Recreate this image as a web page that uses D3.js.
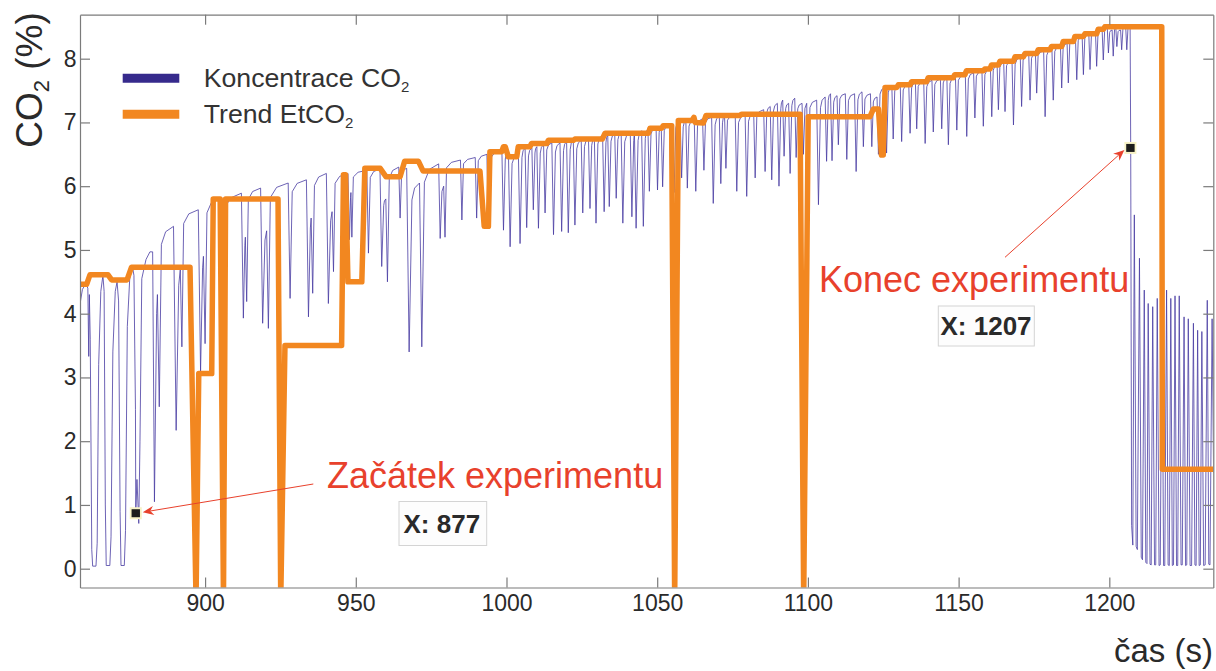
<!DOCTYPE html>
<html>
<head>
<meta charset="utf-8">
<script src="https://cdn.jsdelivr.net/npm/d3@7"></script>
<style>
  body { margin: 0; background: #fff; }
  svg { display: block; font-family: "Liberation Sans", Arial, Helvetica, sans-serif; }
</style>
</head>
<body>
<svg id="chart" width="1216" height="671"></svg>
<script>
// ---- Capnogram, first irregular part (time s, CO2 %) ----
const earlyTime = [858.5, 859.3, 860.4, 861.1, 861.4, 861.6, 861.9, 862.4, 862.7, 863.8,
  864.2, 864.7, 865.4, 866.1, 866.5, 866.9, 867.2, 868.4, 868.8, 869.4,
  870.2, 870.8, 871.3, 871.8, 872.1, 873.2, 873.6, 874.2, 875.0, 875.9,
  876.4, 876.9, 877.0, 877.4, 878.0, 878.4, 879.0, 880.4, 881.7];
const earlyValue = [4.15, 4.38, 4.47, 4.4, 3.33, 4.3, 3.6, 0.3, 0.04, 0.04,
  0.4, 3.2, 4.35, 4.6, 4.35, 1.0, 0.05, 0.05, 0.5, 3.4,
  4.35, 4.5, 4.2, 0.9, 0.05, 0.05, 0.6, 3.8, 4.55, 4.74,
  4.6, 2.5, 0.87, 1.4, 0.71, 2.0, 4.55, 4.85, 4.97];

// ---- Breaths during the experiment: trough time, trough value, plateau before the trough ----
const breathTime = [
  883.2, 884.8, 890.4, 892.3, 898.5, 900.0, 905.5, 912.7, 913.8, 919.1,
  921.0, 928.2, 934.3, 935.7, 940.9, 942.6, 947.9, 948.7, 954.2, 958.6,
  960.5, 964.7, 967.7, 971.9, 978.0, 979.6, 985.2, 990.1, 994.0, 999.0,
  1001.2, 1004.5, 1006.7, 1008.9, 1010.6, 1012.8, 1015.6, 1018.3, 1020.5, 1022.7,
  1025.3, 1027.7, 1029.7, 1032.4, 1034.1, 1036.4, 1038.6, 1041.6, 1043.0, 1045.4,
  1047.4, 1050.1, 1051.8, 1054.5, 1055.6, 1058.1, 1060.0, 1062.8, 1065.5, 1068.6,
  1071.1, 1072.8, 1076.4, 1079.7, 1082.5, 1085.8, 1088.0, 1090.4, 1092.1, 1094.1,
  1096.1, 1098.5, 1100.1, 1103.5, 1106.2, 1108.0, 1110.1, 1112.9, 1116.0, 1118.4,
  1121.2, 1123.4, 1126.1, 1128.3, 1131.1, 1133.9, 1136.1, 1138.9, 1141.6, 1144.4,
  1146.6, 1149.4, 1152.7, 1155.4, 1158.2, 1161.0, 1163.2, 1165.4, 1168.2, 1170.9,
  1173.7, 1175.9, 1178.7, 1181.4, 1184.2, 1186.4, 1189.2, 1191.4, 1193.6, 1195.8,
  1198.0, 1199.7, 1201.3, 1202.5, 1204.1, 1205.8];
const breathLow = [
  1.05, 2.54, 2.17, 3.48, 3.09, 3.53, 3.33, 3.93, 4.19, 3.85,
  3.77, 4.24, 3.95, 4.32, 4.16, 4.66, 5.16, 5.2, 4.95, 4.74,
  4.5, 5.5, 3.40, 3.48, 5.18, 5.2, 5.47, 5.5, 5.38, 5.31,
  5.05, 5.1, 5.35, 5.63, 5.34, 5.58, 5.24, 5.29, 5.27, 5.39,
  5.58, 5.65, 5.42, 5.6, 5.68, 5.81, 5.42, 5.52, 5.34, 5.37,
  5.92, 5.94, 5.99, 6.1, 5.9, 6.13, 5.97, 5.92, 6.25, 5.73,
  6.04, 6.28, 5.92, 5.84, 6.13, 6.23, 6.1, 6.0, 6.47, 6.2,
  6.45, 6.5, 6.18, 5.71, 6.39, 6.4, 6.65, 6.42, 6.23, 6.62,
  6.62, 6.5, 6.52, 6.74, 6.7, 6.83, 6.9, 6.67, 6.85, 6.9,
  6.65, 6.88, 6.78, 7.07, 6.94, 7.09, 7.2, 7.17, 6.96, 7.25,
  7.35, 7.46, 7.09, 7.35, 7.54, 7.62, 7.67, 7.75, 7.83, 7.88,
  7.98, 8.09, 8.04, 8.19, 8.14, 8.14];
const breathHigh = [
  4.97, 4.3, 5.37, 4.7, 5.63, 4.9, 5.81, 5.89, 5.2, 5.97,
  5.3, 6.05, 6.1, 5.5, 6.2, 5.6, 6.2, 5.9, 6.25, 6.27,
  5.8, 6.3, 6.28, 6.05, 6.35, 6.0, 6.41, 6.45, 6.5, 6.55,
  6.55, 6.5, 6.6, 6.6, 6.62, 6.65, 6.68, 6.68, 6.7, 6.72,
  6.72, 6.74, 6.75, 6.8, 6.8, 6.82, 6.83, 6.84, 6.85, 6.87,
  6.9, 6.92, 6.94, 6.97, 6.98, 7.03, 7.02, 7.05, 7.06, 7.08,
  7.1, 7.1, 7.12, 7.12, 7.15, 7.2, 7.25, 7.3, 7.35, 7.3,
  7.38, 7.3, 7.3, 7.35, 7.4, 7.45, 7.42, 7.45, 7.45, 7.48,
  7.45, 7.4, 7.55, 7.57, 7.58, 7.6, 7.62, 7.64, 7.66, 7.68,
  7.7, 7.72, 7.75, 7.78, 7.8, 7.84, 7.9, 7.94, 7.97, 8.02,
  8.06, 8.08, 8.12, 8.16, 8.2, 8.24, 8.3, 8.35, 8.38, 8.42,
  8.46, 8.48, 8.45, 8.5, 8.45, 8.5];

// ---- After the end of the experiment ----
const tailTime = [1206.9, 1207.1, 1207.4, 1207.8, 1208.3, 1208.9, 1209.3, 1210.0, 1210.6, 1211.0,
  1211.6, 1212.1, 1212.5, 1212.9, 1213.5, 1213.9, 1214.4, 1215.0, 1215.4, 1215.9,
  1216.5, 1216.9, 1217.5, 1218.0, 1218.4, 1219.0, 1219.5, 1219.9, 1220.4, 1220.9,
  1221.3, 1221.8, 1222.3, 1222.7, 1223.2, 1223.8, 1224.2, 1224.8, 1225.3, 1225.7,
  1226.2, 1226.8, 1227.3, 1227.9, 1228.4, 1228.8, 1229.3, 1229.8, 1230.2, 1230.7,
  1231.3, 1231.8, 1232.5, 1233.0, 1233.4, 1234.1, 1234.6];
const tailValue = [8.5, 6.6, 0.68, 0.37, 5.55, 0.35, 0.3, 4.87, 0.18, 0.14,
  4.37, 0.1, 0.08, 4.16, 0.07, 0.06, 4.11, 0.06, 0.06, 4.24,
  0.05, 0.06, 4.28, 0.05, 0.05, 4.37, 0.06, 0.05, 4.24, 0.05,
  0.06, 4.28, 0.05, 0.05, 4.28, 0.06, 0.06, 3.95, 0.05, 0.06,
  3.92, 0.05, 0.05, 3.85, 0.06, 0.05, 3.74, 0.05, 0.06, 3.72,
  0.05, 0.06, 4.21, 0.07, 0.06, 3.92, 1.5];

// ---- End-tidal CO2 trend ----
const trendTime = [858.5, 860.7, 861.8, 867.8, 869.0, 874.1, 875.6, 895.0, 897.0, 897.9,
  902.2, 902.7, 905.0, 906.1, 906.8, 924.2, 925.1, 926.5, 945.3, 945.9,
  946.6, 947.4, 952.0, 953.0, 958.1, 960.0, 964.7, 966.2, 970.8, 972.3,
  991.2, 992.6, 994.0, 994.5, 998.4, 999.0, 999.6, 1000.6, 1003.4, 1003.9,
  1007.8, 1008.3, 1013.4, 1013.9, 1022.2, 1022.7, 1031.8, 1032.7, 1047.1, 1047.6,
  1051.5, 1052.0, 1054.8, 1055.8, 1057.0, 1061.5, 1062.2, 1062.6, 1065.3, 1066.2,
  1077.5, 1078.0, 1097.4, 1098.6, 1100.1, 1120.6, 1121.7, 1123.4, 1124.4, 1125.0,
  1125.6, 1129.5, 1130.0, 1133.9, 1134.4, 1139.4, 1139.9, 1148.2, 1148.7, 1152.1,
  1152.6, 1158.2, 1158.7, 1160.4, 1160.9, 1163.2, 1163.7, 1168.2, 1168.7, 1171.5,
  1172.0, 1175.9, 1176.4, 1180.3, 1180.8, 1184.2, 1184.7, 1188.1, 1188.6, 1191.4,
  1191.9, 1195.8, 1196.3, 1198.0, 1198.5, 1217.4, 1217.6, 1234.5];
const trendValue = [4.46, 4.46, 4.61, 4.61, 4.53, 4.53, 4.73, 4.73, -0.5, 3.06,
  3.06, 5.80, 5.80, -0.5, 5.80, 5.80, -0.5, 3.50, 3.50, 6.18,
  6.18, 4.50, 4.50, 6.28, 6.28, 6.15, 6.15, 6.39, 6.39, 6.24,
  6.24, 5.37, 5.37, 6.54, 6.54, 6.62, 6.62, 6.46, 6.46, 6.62,
  6.62, 6.67, 6.67, 6.72, 6.72, 6.74, 6.74, 6.83, 6.83, 6.91,
  6.91, 6.95, 6.95, -0.5, 7.03, 7.03, 7.08, 7.0, 6.99, 7.11,
  7.11, 7.13, 7.13, -0.5, 7.09, 7.09, 7.21, 7.21, 6.49, 6.49,
  7.55, 7.55, 7.59, 7.59, 7.64, 7.64, 7.70, 7.70, 7.75, 7.75,
  7.81, 7.81, 7.84, 7.84, 7.90, 7.90, 7.96, 7.96, 8.03, 8.03,
  8.08, 8.08, 8.14, 8.14, 8.19, 8.19, 8.27, 8.27, 8.35, 8.35,
  8.39, 8.39, 8.46, 8.46, 8.50, 8.50, 1.56, 1.56];

const xTicks = [900, 950, 1000, 1050, 1100, 1150, 1200];
const yTicks = [0, 1, 2, 3, 4, 5, 6, 7, 8];

// Data tips marking start and end of the experiment
const markerTime = [877, 1207];
const markerValue = [0.87, 6.6];
const markerTitle = ["Začátek experimentu", "Konec experimentu"];

const legendNames = ["Koncentrace CO", "Trend EtCO"];

// ---------------------------------------------------------------
const plot = { left: 80, right: 1213.3, top: 14.7, bottom: 587.5 };
const BLUE = "#362a8c", BLUE_LINE = "#4a3ea3", ORANGE = "#f28720", RED = "#e8412c",
      AXIS = "#7b7b7b", INK = "#2a2a2a";

const svg = d3.select("#chart");
const x = d3.scaleLinear().domain([858.5, 1234.5]).range([plot.left, plot.right]);
const y = d3.scaleLinear().domain([-0.295, 8.69]).range([plot.bottom, plot.top]);

svg.append("defs").append("clipPath").attr("id", "plotClip")
  .append("rect")
  .attr("x", plot.left).attr("y", plot.top)
  .attr("width", plot.right - plot.left).attr("height", plot.bottom - plot.top);

// Build the CO2 polyline: early vertices, then each breath as a dip followed by a
// slowly rising plateau up to the next breath's level, then the tail
const co2 = earlyTime.map((t, i) => [t, earlyValue[i]]);
const nB = breathTime.length;
const dipLeft = k => {
  const t = breathTime[k];
  const prev = k > 0 ? breathTime[k - 1] : earlyTime[earlyTime.length - 1];
  return Math.min(0.3 + 0.18 * (breathHigh[k] - breathLow[k]), 0.4 * (t - prev));
};
for (let i = 0; i < nB; i++) {
  const t = breathTime[i], lo = breathLow[i], hi = breathHigh[i];
  const depth = hi - lo;
  const next = i < nB - 1 ? breathTime[i + 1] : tailTime[0];
  const nextHi = i < nB - 1 ? breathHigh[i + 1] : tailValue[0];
  const dr = Math.min(0.35 + 0.2 * depth, 0.45 * (next - t));
  co2.push([t - dipLeft(i), hi], [t, lo]);
  if (i < nB - 1) {
    const rise = Math.min(0.3, 0.1 * (nextHi - lo));
    const plateauEnd = next - dipLeft(i + 1);
    const start = t + dr;
    co2.push([start, nextHi - rise]);
    if (plateauEnd - start > 0.6) co2.push([start + 0.35 * (plateauEnd - start), nextHi - 0.3 * rise]);
  } else {
    co2.push([t + dr, nextHi]);
  }
}
tailTime.forEach((t, i) => co2.push([t, tailValue[i]]));

const trend = trendTime.map((t, i) => [t, trendValue[i]]);
const line = d3.line().x(d => x(d[0])).y(d => y(d[1]));

const g = svg.append("g").attr("clip-path", "url(#plotClip)");
g.append("path").datum(co2)
  .attr("d", line).attr("fill", "none")
  .attr("stroke", BLUE_LINE).attr("stroke-width", 0.9).attr("stroke-opacity", 0.9)
  .attr("stroke-linejoin", "round");
g.append("path").datum(trend)
  .attr("d", line).attr("fill", "none")
  .attr("stroke", ORANGE).attr("stroke-width", 5.5).attr("stroke-linejoin", "round");

// ---- Axes (box with inward ticks) ----
function styleAxis(sel) {
  sel.select(".domain").attr("stroke", AXIS).attr("stroke-width", 1.2);
  sel.selectAll(".tick line").attr("stroke", AXIS).attr("stroke-width", 1.2);
  sel.selectAll(".tick text").attr("fill", INK).attr("font-size", 23)
    .attr("font-family", '"Liberation Sans", Arial, Helvetica, sans-serif');
}
svg.append("g").attr("transform", `translate(0,${plot.bottom})`)
  .call(d3.axisBottom(x).tickValues(xTicks).tickSize(-10).tickSizeOuter(0).tickPadding(7.5).tickFormat(d3.format("d")))
  .call(styleAxis);
svg.append("g").attr("transform", `translate(0,${plot.top})`)
  .call(d3.axisTop(x).tickValues(xTicks).tickSize(-10).tickSizeOuter(0).tickFormat(""))
  .call(styleAxis);
svg.append("g").attr("transform", `translate(${plot.left},0)`)
  .call(d3.axisLeft(y).tickValues(yTicks).tickSize(-10).tickSizeOuter(0).tickPadding(3.5).tickFormat(d3.format("d")))
  .call(styleAxis);
svg.append("g").attr("transform", `translate(${plot.right},0)`)
  .call(d3.axisRight(y).tickValues(yTicks).tickSize(-10).tickSizeOuter(0).tickFormat(""))
  .call(styleAxis);

// ---- Axis titles ----
const yTitle = svg.append("text")
  .attr("transform", "translate(41.5,80) rotate(-90)")
  .attr("text-anchor", "middle").attr("font-size", 37).attr("fill", INK);
yTitle.append("tspan").text("CO");
yTitle.append("tspan").attr("font-size", 22).attr("dy", 7).text("2");
yTitle.append("tspan").attr("dy", -7).text(" (%)");

svg.append("text")
  .attr("x", 1213).attr("y", 662)
  .attr("text-anchor", "end").attr("font-size", 33).attr("fill", INK)
  .text("čas (s)");

// ---- Legend ----
const legendColors = [BLUE, ORANGE];
const lg = svg.append("g");
legendNames.forEach((name, i) => {
  const yy = 78.3 + i * 36;
  lg.append("line")
    .attr("x1", 122.7).attr("x2", 179.3).attr("y1", yy).attr("y2", yy)
    .attr("stroke", legendColors[i]).attr("stroke-width", 9);
  const t = lg.append("text").attr("x", 203.7).attr("y", yy + 8.5)
    .attr("font-size", 26.7).attr("fill", "#333");
  t.append("tspan").text(name);
  t.append("tspan").attr("font-size", 15).attr("dy", 5).text("2");
});

// ---- Data tips with annotations ----
const notes = [
  { text: [327, 488.3], box: [399, 501.5, 87.7, 44], label: [403.5, 533.3], tail: [313.3, 484], tip: [7, -1] },
  { text: [819, 291.7], box: [938.3, 306, 96, 40], label: [940.5, 335], tail: [1005, 257.3], tip: [-6, 2] }
];
markerTime.forEach((t, i) => {
  const cx = x(t), cy = y(markerValue[i]);
  const n = notes[i];
  // marker
  svg.append("rect").attr("x", cx - 6).attr("y", cy - 6).attr("width", 12).attr("height", 12)
    .attr("fill", "#f7f2c6");
  svg.append("rect").attr("x", cx - 4.2).attr("y", cy - 4).attr("width", 8.4).attr("height", 8)
    .attr("fill", "#1c1c1c");
  // arrow
  const tx = cx + n.tip[0], ty = cy + n.tip[1];
  const ang = Math.atan2(ty - n.tail[1], tx - n.tail[0]);
  const L = 11, Wd = 4.6;
  const bx = tx - L * Math.cos(ang), by = ty - L * Math.sin(ang);
  const nx = -Math.sin(ang), ny = Math.cos(ang);
  const notch = [tx - 0.7 * L * Math.cos(ang), ty - 0.7 * L * Math.sin(ang)];
  svg.append("line").attr("x1", n.tail[0]).attr("y1", n.tail[1]).attr("x2", notch[0]).attr("y2", notch[1])
    .attr("stroke", RED).attr("stroke-width", 1);
  svg.append("path")
    .attr("d", `M${tx},${ty}L${bx + nx * Wd},${by + ny * Wd}L${notch[0]},${notch[1]}L${bx - nx * Wd},${by - ny * Wd}Z`)
    .attr("fill", RED);
  // title
  svg.append("text").attr("x", n.text[0]).attr("y", n.text[1])
    .attr("font-size", 36).attr("fill", RED).text(markerTitle[i]);
  // value box
  svg.append("rect").attr("x", n.box[0]).attr("y", n.box[1]).attr("width", n.box[2]).attr("height", n.box[3])
    .attr("fill", "#fdfdfd").attr("stroke", "#d4d4d4").attr("stroke-width", 1);
  svg.append("text").attr("x", n.label[0]).attr("y", n.label[1])
    .attr("font-size", 26).attr("font-weight", "bold").attr("fill", INK)
    .text("X: " + t);
});
</script>
</body>
</html>
